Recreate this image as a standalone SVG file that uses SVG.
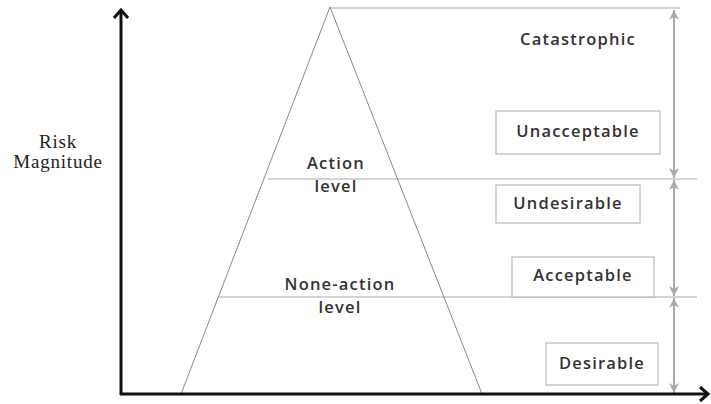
<svg xmlns="http://www.w3.org/2000/svg" width="711" height="404" viewBox="0 0 711 404">
<style>
.lbl{font-family:"Open Sans","DejaVu Sans",sans-serif;font-size:16.5px;fill:#333;text-anchor:middle;letter-spacing:1.2px;font-weight:600}
.ser{font-family:"Liberation Serif",serif;font-size:19px;fill:#222;text-anchor:middle;letter-spacing:0.8px}
.box{fill:#fff;stroke:#aaa;stroke-width:1}
.gl{stroke:#aaa;stroke-width:1;fill:none}
.dim{stroke:#aaa;stroke-width:2;fill:none;marker-start:url(#ah);marker-end:url(#ah)}
.axis{stroke:#111;stroke-width:3;fill:none}
</style>
<defs>
<marker id="ah" viewBox="0 0 10 10" refX="10" refY="5" markerWidth="5" markerHeight="5" orient="auto-start-reverse" markerUnits="strokeWidth">
<path d="M0,0 L10,5 L0,10 L3,5 z" fill="#aaa"/>
</marker>
</defs>
<rect width="711" height="404" fill="#fff"/>
<g id="connectors">
<line class="gl" x1="330" y1="8" x2="680" y2="8"/>
<line class="gl" x1="268" y1="179" x2="697" y2="179"/>
<line class="gl" x1="219" y1="297" x2="697" y2="297"/>
<polyline class="gl" points="181,394 330,7 482,394" style="stroke:#888"/>
<line class="dim" x1="674" y1="10" x2="674" y2="178"/>
<line class="dim" x1="674" y1="180" x2="674" y2="296"/>
<line class="dim" x1="674" y1="298" x2="674" y2="393"/>
<line class="axis" x1="121" y1="395" x2="121" y2="11"/>
<polyline class="axis" points="114,18 121,10 128,18" stroke-linejoin="miter"/>
<line class="axis" x1="120" y1="394" x2="706" y2="394"/>
<polyline class="axis" points="700,387 708,394 700,401" stroke-linejoin="miter"/>
</g>
<g id="catastrophic"><text class="lbl" x="578" y="45">Catastrophic</text></g>
<g id="unacceptable"><rect class="box" x="496" y="111" width="164" height="43"/><text class="lbl" x="578" y="137">Unacceptable</text></g>
<g id="undesirable"><rect class="box" x="496" y="185" width="144" height="38"/><text class="lbl" x="568" y="209">Undesirable</text></g>
<g id="acceptable"><rect class="box" x="512" y="257" width="142" height="40"/><text class="lbl" x="583" y="281">Acceptable</text></g>
<g id="desirable"><rect class="box" x="546" y="343" width="112" height="42"/><text class="lbl" x="602" y="369">Desirable</text></g>
<g id="action"><text class="lbl" x="336" y="169">Action</text><text class="lbl" x="336" y="192">level</text></g>
<g id="noneaction"><text class="lbl" x="340" y="290">None-action</text><text class="lbl" x="340" y="313">level</text></g>
<g id="ylabel"><text class="ser" x="58" y="148">Risk</text><text class="ser" x="58" y="168">Magnitude</text></g>
</svg>
